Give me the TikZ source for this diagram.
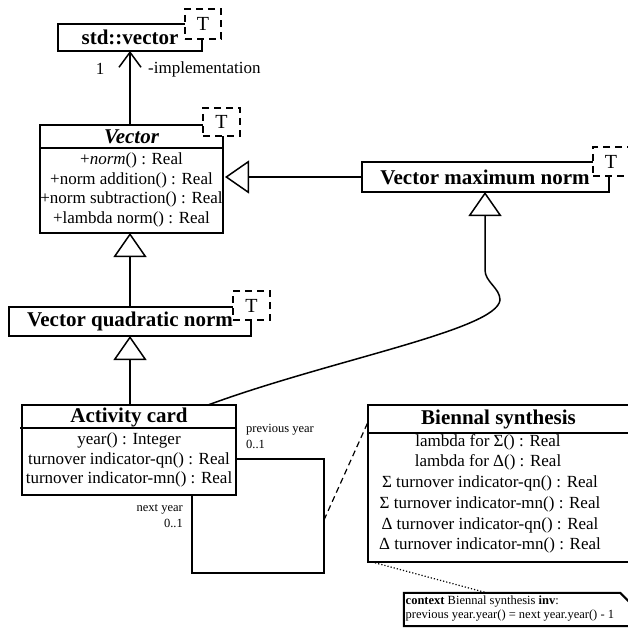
\documentclass[tikz,border=0pt]{standalone}
\usepackage{fontspec}
\setmainfont{Liberation Serif}
\usetikzlibrary{arrows.meta,calc}

\begin{document}
\begin{tikzpicture}[x=1pt,y=-1pt,
  classbox/.style={draw,line width=2pt,fill=white,inner sep=0pt,outer sep=0pt},
  cname/.style={font=\fontsize{21}{24}\selectfont\bfseries,inner sep=0pt},
  meth/.style={font=\fontsize{17}{20}\selectfont,inner sep=0pt},
  lbl/.style={font=\fontsize{12.5}{14}\selectfont,inner sep=0pt},
  tmpl/.style={draw,line width=2.5pt,dash pattern=on 7pt off 5pt,fill=white,
    inner sep=0pt,outer sep=0pt,font=\fontsize{20}{24}\selectfont},
  conn/.style={line width=1.5pt},
  inherit/.style={conn,-{Triangle[open,length=24pt,width=33pt]}},
  sep/.style={line width=1.5pt},
]
\useasboundingbox (0,0) rectangle (627,628);
\coordinate (spine) at (130,0);

% std::vector with its template parameter
\node[classbox,cname,minimum width=144pt,minimum height=27pt] (std) at (130,37.5) {std::vector};
\node[tmpl,minimum width=36pt,minimum height=30pt] (stdT) at (203,24) {T};

% Vector
\node[classbox,minimum width=183pt,minimum height=108pt] (vec) at (131.5,179) {};
\draw[sep] ($(vec.north west)+(0,23)$) -- ($(vec.north east)+(0,23)$);
\node[cname,font=\fontsize{21}{24}\selectfont\bfseries\itshape] (vecN) at (131.5,137) {Vector};
\node[meth] (v1) at (131.5,160) {+\textit{norm}() : Real};
\node[meth] (v2) at (131.5,180) {+norm addition() : Real};
\node[meth] (v3) at (131.5,199.5) {+norm subtraction() : Real};
\node[meth] (v4) at (131.5,219) {+lambda norm() : Real};
\node[tmpl,minimum width=37pt,minimum height=28pt] (vecT) at (221.5,122) {T};

% Vector maximum norm
\node[classbox,cname,minimum width=247pt,minimum height=30pt] (vmn) at (485,177) {Vector maximum norm};
\node[tmpl,minimum width=36pt,minimum height=29pt] (vmnT) at (611,161.5) {T};

% Vector quadratic norm
\node[classbox,cname,minimum width=242pt,minimum height=29pt] (vqn) at (130,321.5) {Vector quadratic norm};
\node[tmpl,minimum width=37pt,minimum height=29pt] (vqnT) at (251.5,305.5) {T};

% Activity card
\node[classbox,minimum width=214pt,minimum height=90pt] (ac) at (129,450) {};
\draw[sep] ($(ac.north west)+(-2,23)$) -- ($(ac.north east)+(0,23)$);
\node[cname] (acN) at (129,417) {Activity card};
\node[meth] (a1) at (129,440) {year() : Integer};
\node[meth] (a2) at (129,460) {turnover indicator-qn() : Real};
\node[meth] (a3) at (129,479.5) {turnover indicator-mn() : Real};

% Biennal synthesis
\node[classbox,minimum width=262pt,minimum height=157pt] (bs) at (499,483.5) {};
\draw[sep] ($(bs.north west)+(0,28)$) -- ($(bs.north east)+(0,28)$);
\node[cname] (bsN) at (498.5,419) {Biennal synthesis};
\node[meth] (b1) at (488,442) {lambda for Σ() : Real};
\node[meth] (b2) at (488,462) {lambda for Δ() : Real};
\node[meth] (b3) at (490,483) {Σ turnover indicator-qn() : Real};
\node[meth] (b4) at (490,504) {Σ turnover indicator-mn() : Real};
\node[meth] (b5) at (490,525) {Δ turnover indicator-qn() : Real};
\node[meth] (b6) at (490,545) {Δ turnover indicator-mn() : Real};

% OCL note
\node[minimum width=226pt,minimum height=33pt,inner sep=0pt] (note) at (517,609.5) {};
\draw[line width=2pt] (note.south west) -- (note.north west)
  -- ($(note.north east)+(-10,0)$) -- ($(note.north east)+(0,10)$)
  -- (note.south east) -- cycle;
\node[lbl,anchor=west,align=left] (noteT) at (405.5,608.5)
  {\textbf{context} Biennal synthesis \textbf{inv}:\\previous year.year() = next year.year() - 1};

% std::vector association
\draw[conn,-{Straight Barb[length=15pt,width=22pt]}] (vec.north -| spine) -- (std.south -| spine);
\node[meth] (m1) at (100,69) {1};
\node[meth,anchor=west] (role) at (148,69) {-implementation};

% generalizations
\draw[inherit,shorten >=2pt] (vmn.west) -- (vmn.west -| vec.east);
\draw[inherit] (vqn.north -| spine) -- (vec.south -| spine);
\draw[inherit] (ac.north -| spine) -- (vqn.south -| spine);
\coordinate (cv0) at (208,405);
\coordinate (cv1) at (500,300);
\coordinate (cv2) at (485,270);
\draw[inherit] (cv0) .. controls (330,360) and (497,330) .. (cv1)
  .. controls (500,288) and (485,282) .. (cv2) -- (vmn.south);

% reflexive association of Activity card
\coordinate (l1) at (324,459);
\coordinate (l2) at (324,573);
\coordinate (l3) at (192,573);
\draw[conn] (ac.east |- l1) -- (l1) -- (l2) -- (l3) -- (ac.south -| l3);
\node[lbl,anchor=west] (prevR) at (246,430) {previous year};
\node[lbl,anchor=west] (prevM) at (246,444) {0..1};
\node[lbl,anchor=east] (nextR) at (183,509) {next year};
\node[lbl,anchor=east] (nextM) at (183,523) {0..1};

% association class link and note anchor
\coordinate (lmid) at (324,520);
\draw[line width=1.2pt,dash pattern=on 6pt off 4pt] (lmid) -- ($(bs.north west)+(0,17)$);
\draw[line width=1.2pt,dotted] ($(bs.south west)+(4,0)$) -- ($(note.north west)+(83,0)$);
\end{tikzpicture}
\end{document}
